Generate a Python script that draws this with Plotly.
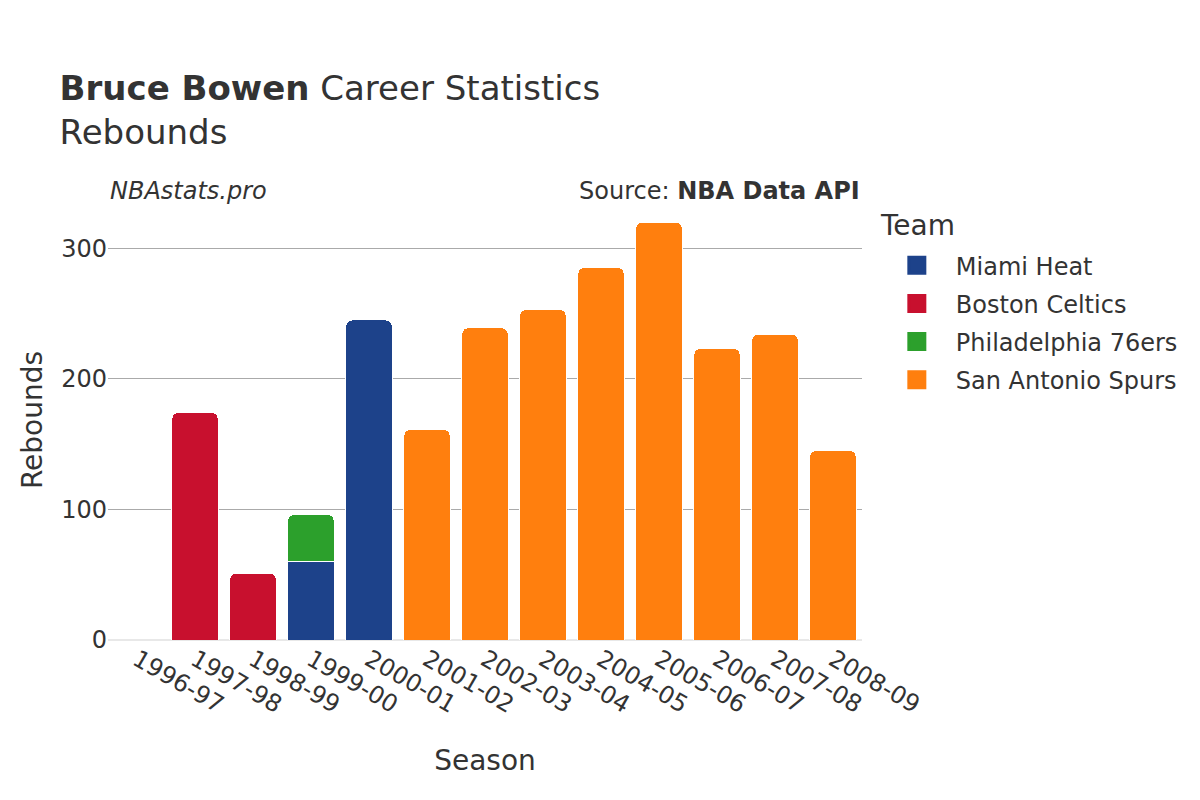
import plotly.graph_objects as go

seasons = ["1996-97", "1997-98", "1998-99", "1999-00", "2000-01", "2001-02", "2002-03",
           "2003-04", "2004-05", "2005-06", "2006-07", "2007-08", "2008-09"]

miami_seasons = ["1996-97", "1999-00", "2000-01"]
miami_values = [0, 60, 245]

boston_seasons = ["1997-98", "1998-99"]
boston_values = [174, 51]

phila_seasons = ["1999-00"]
phila_values = [36]

spurs_seasons = ["2001-02", "2002-03", "2003-04", "2004-05", "2005-06", "2006-07", "2007-08", "2008-09"]
spurs_values = [161, 239, 253, 285, 320, 223, 234, 145]

series = [
    ("Miami Heat", miami_seasons, miami_values, "#1d428a"),
    ("Boston Celtics", boston_seasons, boston_values, "#c8102e"),
    ("Philadelphia 76ers", phila_seasons, phila_values, "#2ca02c"),
    ("San Antonio Spurs", spurs_seasons, spurs_values, "#ff7f0e"),
]

fig = go.Figure()
for name, xs, ys, color in series:
    fig.add_trace(go.Bar(
        x=xs, y=ys, name=name, showlegend=False, legendgroup=name,
        marker=dict(color=color, line=dict(color="white", width=1)),
    ))
# legend swatches
for name, xs, ys, color in series:
    fig.add_trace(go.Scatter(
        x=[None], y=[None], mode="markers", name=name, legendgroup=name,
        marker=dict(symbol="square", size=19, color=color, line=dict(color=color, width=3)),
    ))

font_family = "DejaVu Sans"
fig.update_layout(
    barmode="stack",
    barcornerradius=6,
    width=1200, height=800,
    paper_bgcolor="white", plot_bgcolor="white",
    font=dict(family=font_family, size=22, color="#333333"),
    title=dict(
        text="<b>Bruce Bowen</b> Career Statistics<br>Rebounds",
        x=0.043, xanchor="left", y=0.885, yanchor="top",
        font=dict(size=34, color="#333333"),
    ),
    margin=dict(l=100, r=346, t=192, b=168),
    legend=dict(
        x=1.021, xanchor="left", y=0.902, yanchor="top",
        font=dict(size=24),
        traceorder="grouped",
        tracegroupgap=4,
        itemsizing="trace",
        itemwidth=68,
    ),
    xaxis=dict(
        type="category",
        title=dict(text="Season", font=dict(size=28), standoff=32),
        categoryorder="array", categoryarray=seasons,
        tickangle=30, tickfont=dict(size=24),
        showgrid=False, showline=False,
    ),
    yaxis=dict(
        title=dict(text="Rebounds", font=dict(size=28), standoff=10),
        tickfont=dict(size=24),
        showgrid=True, gridcolor="#aaaaaa", gridwidth=1,
        zeroline=True, zerolinecolor="#e8e8e8", zerolinewidth=2,
        tickvals=[0, 100, 200, 300],
    ),
    bargap=0.2,
    annotations=[
        dict(text="<i>NBAstats.pro</i>", xref="paper", yref="paper", x=0.0, y=0.985,
             xanchor="left", yanchor="bottom", showarrow=False, font=dict(size=24, color="#333333")),
        dict(text="Source: <b>NBA Data API</b>", xref="paper", yref="paper", x=1.0, y=0.985,
             xanchor="right", yanchor="bottom", showarrow=False, font=dict(size=24, color="#333333")),
        dict(text="Team", xref="paper", yref="paper", x=1.021, y=0.943,
             xanchor="left", yanchor="middle", showarrow=False, font=dict(size=28, color="#333333")),
    ],
)

fig.write_html("out.html")
